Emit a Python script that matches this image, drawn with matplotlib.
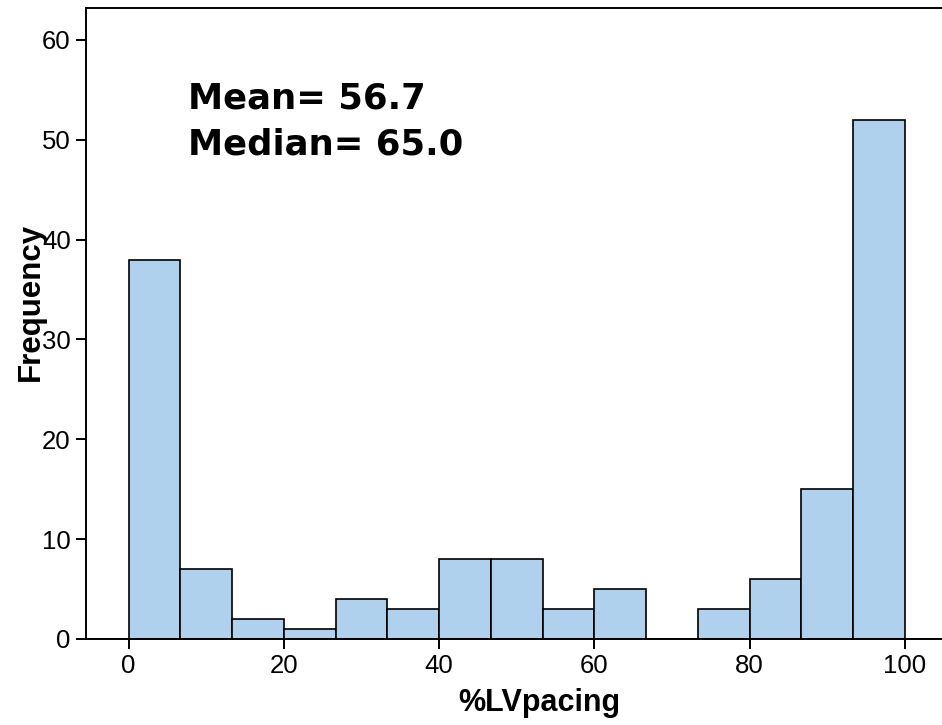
import numpy as np
import matplotlib
matplotlib.use('Agg')
import matplotlib.pyplot as plt

plt.rcParams['font.family'] = ['Liberation Sans', 'DejaVu Sans']

# histogram of %LV pacing, 15 bins over 0..100
binEdges = np.linspace(0, 100, 16)
counts = [38, 7, 2, 1, 4, 3, 8, 8, 3, 5, 0, 3, 6, 15, 52]
xticks = [0, 20, 40, 60, 80, 100]
yticks = [0, 10, 20, 30, 40, 50, 60]
meanText = "Mean= 56.7"
medianText = "Median= 65.0"

fig = plt.figure(figsize=(9.42, 7.25), dpi=100)
ax = fig.add_axes([86/942, 86/725, 1 - 86/942, 631/725])

ax.bar(binEdges[:-1], counts, width=np.diff(binEdges), align='edge',
       color='#afd1ee', edgecolor='black', linewidth=1.2)

ax.set_xlim(-5.5, 104.8)
ax.set_ylim(0, 63.2)
ax.set_xticks(xticks)
ax.set_yticks(yticks)
ax.tick_params(labelsize=18.5, length=7, width=1.4, direction='out', pad=4)

for side in ['left', 'bottom', 'top']:
    ax.spines[side].set_linewidth(1.4)
ax.spines['right'].set_visible(False)

ax.set_xlabel('%LVpacing', fontsize=22, fontweight='bold')
ax.xaxis.set_label_coords(0.530, -0.078)
ax.xaxis.label.set_va('top')
ax.set_ylabel('Frequency', fontsize=22.5, fontweight='bold')
ax.yaxis.label.set_ha('center')
ax.yaxis.label.set_va('center')
ax.yaxis.set_label_coords(-55/856, 0.534)

statFont = dict(fontsize=25.5, fontweight='bold', family=['DejaVu Sans'],
                transform=ax.transAxes, va='baseline', ha='left')
ax.text(0.119, 0.8415, meanText, **statFont)
ax.text(0.119, 0.7686, medianText, **statFont)

fig.savefig('out.png', dpi=100)
